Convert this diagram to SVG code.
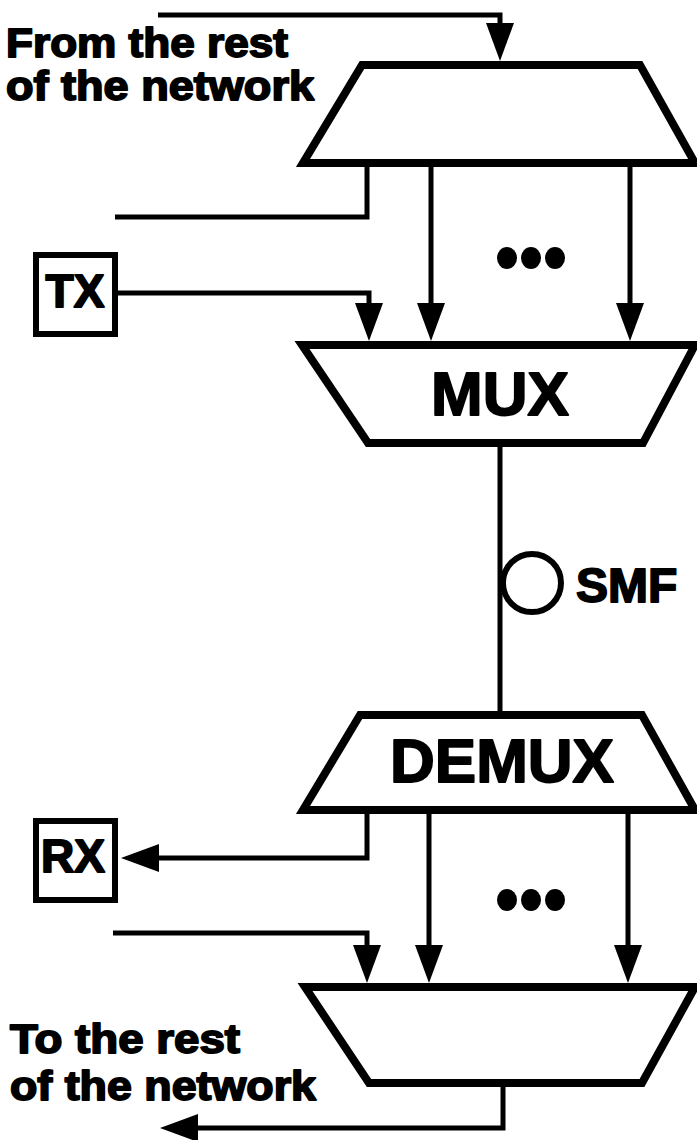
<svg xmlns="http://www.w3.org/2000/svg" width="697" height="1140" viewBox="0 0 697 1140">
<style>
.blk{fill:#fff;stroke:#000;stroke-width:8;stroke-linejoin:miter}
.box{fill:#fff;stroke:#000;stroke-width:6}
.con{fill:none;stroke:#000;stroke-width:5}
.lbl{font-family:"Liberation Sans",Arial,sans-serif;font-weight:bold;fill:#000;stroke:#000;stroke-width:1.8;stroke-linejoin:round}
.dot{fill:#000}
</style>
<defs>
<marker id="arr" viewBox="0 0 38 28" refX="30" refY="14" markerWidth="38" markerHeight="28" markerUnits="userSpaceOnUse" orient="auto">
<path d="M0,0 L38,14 L0,28 Z" fill="#000"/>
</marker>
</defs>
<rect width="697" height="1140" fill="#fff"/>

<g id="label-from">
<text class="lbl" x="6" y="57" font-size="40" textLength="282" lengthAdjust="spacingAndGlyphs">From the rest</text>
<text class="lbl" x="6" y="100" font-size="40" textLength="308" lengthAdjust="spacingAndGlyphs">of the network</text>
</g>
<g id="label-to">
<text class="lbl" x="10" y="1053" font-size="40" textLength="230" lengthAdjust="spacingAndGlyphs">To the rest</text>
<text class="lbl" x="10" y="1100" font-size="40" textLength="306" lengthAdjust="spacingAndGlyphs">of the network</text>
</g>

<g id="connectors">
<path class="con" d="M158,15 H500 V53" marker-end="url(#arr)"/>
<path class="con" d="M367,163 V217 H115"/>
<path class="con" d="M431,163 V333" marker-end="url(#arr)"/>
<path class="con" d="M630,163 V333" marker-end="url(#arr)"/>
<path class="con" d="M118,293 H369 V333" marker-end="url(#arr)"/>
<path class="con" d="M500,443 V715"/>
<path class="con" d="M367,810 V858 H129" marker-end="url(#arr)"/>
<path class="con" d="M429,810 V975" marker-end="url(#arr)"/>
<path class="con" d="M628,810 V975" marker-end="url(#arr)"/>
<path class="con" d="M113,933 H367 V975" marker-end="url(#arr)"/>
<path class="con" d="M503,1083 V1128 H168" marker-end="url(#arr)"/>
</g>

<g id="splitter-top">
<polygon class="blk" points="362,65 640,65 695,163 303,163"/>
</g>
<g id="dots-top">
<ellipse class="dot" cx="507" cy="258" rx="10" ry="11"/>
<ellipse class="dot" cx="531" cy="258" rx="10" ry="11"/>
<ellipse class="dot" cx="555" cy="258" rx="10" ry="11"/>
</g>
<g id="tx">
<rect class="box" x="36" y="255" width="79" height="79"/>
<text class="lbl" x="75" y="307" font-size="46" text-anchor="middle">TX</text>
</g>
<g id="mux">
<polygon class="blk" points="302,345 695,345 643,443 368,443"/>
<text class="lbl" x="500" y="415" font-size="62" text-anchor="middle">MUX</text>
</g>
<g id="smf">
<circle cx="532" cy="583" r="29" fill="#fff" stroke="#000" stroke-width="6"/>
<text class="lbl" x="576" y="602" font-size="48">SMF</text>
</g>
<g id="demux">
<polygon class="blk" points="360,715 642,715 695,810 303,810"/>
<text class="lbl" x="502" y="782" font-size="62" text-anchor="middle">DEMUX</text>
</g>
<g id="dots-bottom">
<ellipse class="dot" cx="507" cy="900" rx="10" ry="11"/>
<ellipse class="dot" cx="531" cy="900" rx="10" ry="11"/>
<ellipse class="dot" cx="555" cy="900" rx="10" ry="11"/>
</g>
<g id="rx">
<rect class="box" x="36" y="821" width="79" height="79"/>
<text class="lbl" x="73" y="872" font-size="46" text-anchor="middle">RX</text>
</g>
<g id="combiner-bottom">
<polygon class="blk" points="305,987 695,987 642,1083 369,1083"/>
</g>
</svg>
